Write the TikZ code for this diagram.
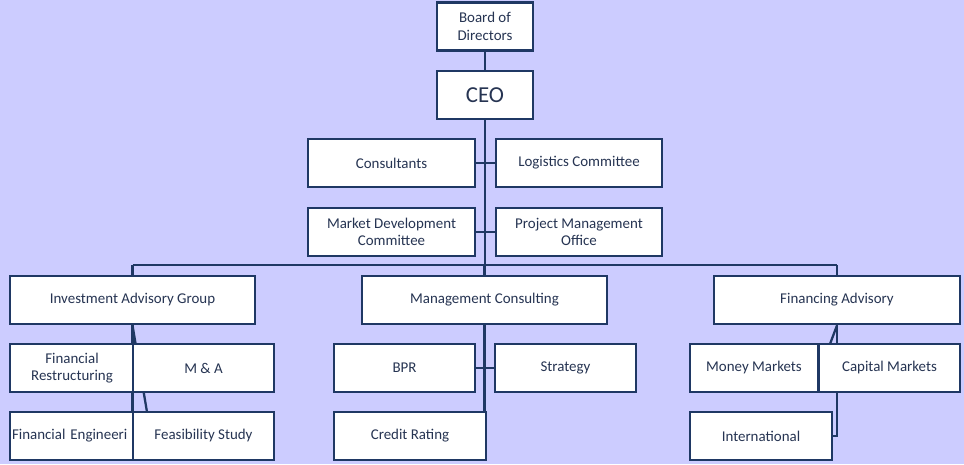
\documentclass[tikz,border=0pt]{standalone}
\usepackage{fontspec}
\setmainfont{Carlito}
\usetikzlibrary{backgrounds}
\definecolor{lilac}{RGB}{204,204,255}
\definecolor{navy}{RGB}{31,56,100}
\definecolor{ink}{RGB}{38,52,82}
\tikzset{
  unit/.style = {draw = navy, line width = 1.6pt, fill = white, text = ink,
    font = \fontsize{8.5}{10}\selectfont, align = center, inner sep = 1pt,
    minimum height = 0.96cm},
  link/.style = {draw = navy, line width = 1.3pt}
}

\begin{document}
\begin{tikzpicture}[x = 0.02cm, y = -0.02cm]
	\node[unit, minimum width = 1.92cm] (board) at (485,26.5) {Board of\\Directors};
	\node[unit, minimum width = 1.92cm, font = \fontsize{13}{15}\selectfont] (ceo) at (485,95) {CEO};
	\node[unit, minimum width = 3.34cm] (cons) at (391.5,163) {Consultants};
	\node[unit, minimum width = 3.32cm] (logi) at (579,163) {Logistics Committee};
	\node[unit, minimum width = 3.34cm] (mdc) at (391.5,232) {Market Development\\Committee};
	\node[unit, minimum width = 3.32cm] (pmo) at (579,232) {Project Management\\Office};
	\node[unit, minimum width = 4.9cm] (iag) at (132.5,300) {Investment Advisory Group};
	\node[unit, minimum width = 4.9cm] (mc) at (484.5,300) {Management Consulting};
	\node[unit, minimum width = 4.92cm] (fa) at (837,300) {Financing Advisory};
	% investment advisory
	\node[unit, minimum width = 2.48cm] (fr) at (72,368) {Financial\\Restructuring};
	\node[unit, minimum width = 2.82cm] (ma) at (203.5,368) {M \& A};
	\node[unit, minimum width = 2.48cm, text width = 2.4cm, inner sep = 0pt] (fe) at (72,436) {\makebox[2.4cm][l]{Financial Engineeri}};
	\node[unit, minimum width = 2.82cm] (fs) at (203.5,436) {Feasibility Study};
	% management consulting
	\node[unit, minimum width = 2.82cm] (bpr) at (404.5,368) {BPR};
	\node[unit, minimum width = 2.82cm] (strat) at (565.5,368) {Strategy};
	\node[unit, minimum width = 3.04cm] (cr) at (410,436) {Credit Rating};
	% financing advisory
	\node[unit, minimum width = 2.56cm] (mm) at (754,368) {Money Markets};
	\node[unit, minimum width = 2.82cm] (cm) at (889.5,368) {Capital Markets};
	\node[unit, minimum width = 2.84cm] (intl) at (761,436) {International};
	\coordinate (bar) at (485,265);
	\begin{scope}[on background layer]
		\fill[lilac] (0,0) rectangle (964,464);
		\draw[link] (board) -- (ceo);
		\draw[link] (ceo) -- (bar);
		\draw[link] (cons) -- (logi);
		\draw[link] (mdc) -- (pmo);
		\draw[link] (iag.south |- bar) -- (fa.south |- bar);
		\foreach \g in {iag, mc, fa}
			\draw[link] (\g.south |- bar) -- (\g.north);
		\draw[link] (iag.south) -- (iag.south |- fe.north);
		\draw[link] (iag.south) -- (147,412);
		\draw[link] (mc.south) |- (cr.east);
		\draw[link] (bpr) -- (strat);
		\draw[link] (fa.south) |- (intl.east);
		\draw[link] (fa.south) -- (830,344);
	\end{scope}
\end{tikzpicture}
\end{document}
